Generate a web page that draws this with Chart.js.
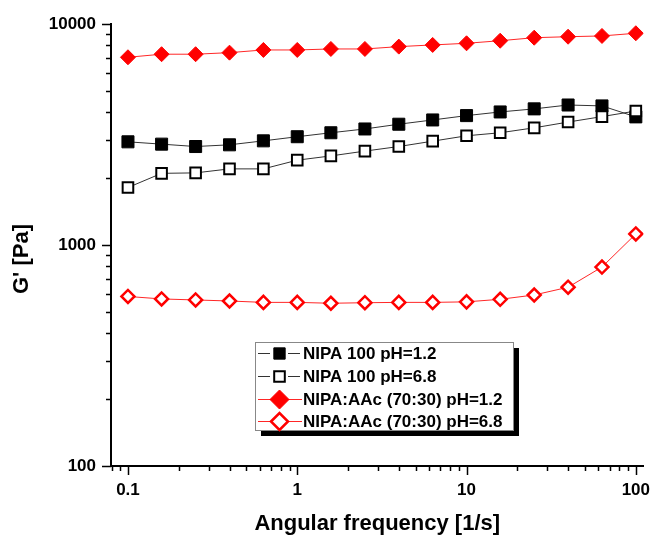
<!DOCTYPE html>
<html>
<head>
<meta charset="utf-8">
<script src="https://cdn.jsdelivr.net/npm/chart.js@4/dist/chart.umd.min.js"></script>
<style>
body { margin: 0; background: #fff; }
</style>
</head>
<body>
<canvas id="grafica" width="653" height="537"></canvas>
<script>
const frecuencias = [0.1, 0.158, 0.251, 0.398, 0.631, 1, 1.58, 2.51, 3.98, 6.31, 10, 15.8, 25.1, 39.8, 63.1, 100];
const nipa12 = [2930, 2860, 2790, 2840, 2960, 3090, 3220, 3350, 3520, 3680, 3850, 4000, 4130, 4300, 4260, 3800];
const nipa68 = [1820, 2110, 2120, 2210, 2210, 2420, 2530, 2660, 2790, 2950, 3120, 3220, 3390, 3600, 3810, 4040];
const aac12 = [7070, 7300, 7300, 7420, 7630, 7630, 7710, 7710, 7900, 8040, 8180, 8400, 8670, 8760, 8830, 9080];
const aac68 = [585, 570, 564, 558, 550, 550, 545, 548, 550, 550, 553, 568, 594, 644, 795, 1122];
const etiquetasX = [0.1, 1, 10, 100];
const etiquetasY = [100, 1000, 10000];

const fuente = '"Liberation Sans", Arial, sans-serif';

function puntos(valores) {
    return frecuencias.map((f, i) => ({ x: f, y: valores[i] }));
}

// marcas menores, titulo del eje y, leyenda con sombra
const extras = {
    id: 'extras',
    afterDraw(chart) {
        const ctx = chart.ctx;
        const ex = chart.scales.x;
        const ey = chart.scales.y;
        const area = chart.chartArea;
        ctx.save();
        ctx.strokeStyle = '#000';
        ctx.lineWidth = 1.5;
        ctx.beginPath();
        for (let d = -2; d <= 4; d++) {
            for (let k = 1; k <= 9; k++) {
                const v = k * Math.pow(10, d);
                const largo = k === 1 ? 9 : 5;
                if (v >= ex.min && v <= ex.max) {
                    const px = Math.round(ex.getPixelForValue(v)) + 0.5;
                    ctx.moveTo(px, area.bottom);
                    ctx.lineTo(px, area.bottom + largo);
                }
                if (v >= ey.min && v <= ey.max) {
                    const py = Math.round(ey.getPixelForValue(v)) + 0.5;
                    ctx.moveTo(area.left, py);
                    ctx.lineTo(area.left - largo, py);
                }
            }
        }
        ctx.stroke();

        // titulo eje y
        ctx.save();
        ctx.translate(22, 259);
        ctx.rotate(-Math.PI / 2);
        ctx.font = 'bold 22px ' + fuente;
        ctx.fillStyle = '#000';
        ctx.textAlign = 'center';
        ctx.textBaseline = 'middle';
        ctx.fillText("G' [Pa]", 0, 0);
        ctx.restore();

        // leyenda
        const bx = 255, by = 342, bw = 258, bh = 88;
        ctx.fillStyle = '#000';
        ctx.fillRect(bx + 6, by + 6, bw, bh);
        ctx.fillStyle = '#fff';
        ctx.fillRect(bx, by, bw, bh);
        ctx.strokeStyle = '#888';
        ctx.lineWidth = 1;
        ctx.strokeRect(bx + 0.5, by + 0.5, bw, bh);

        ctx.font = 'bold 17px ' + fuente;
        ctx.textAlign = 'left';
        ctx.textBaseline = 'middle';
        chart.data.datasets.forEach((ds, i) => {
            const fy = [353, 376, 399, 421][i];
            ctx.strokeStyle = ds.borderColor;
            ctx.lineWidth = 1;
            ctx.beginPath();
            if (ds.huecoLeyenda) {
                ctx.moveTo(258, fy + 0.5); ctx.lineTo(270, fy + 0.5);
                ctx.moveTo(288, fy + 0.5); ctx.lineTo(300, fy + 0.5);
            } else {
                ctx.moveTo(258, fy + 0.5); ctx.lineTo(302, fy + 0.5);
            }
            ctx.stroke();
            ctx.fillStyle = ds.pointBackgroundColor;
            ctx.strokeStyle = ds.pointBorderColor;
            ctx.lineWidth = ds.pointBorderWidth;
            Chart.helpers.drawPoint(ctx, {
                pointStyle: ds.pointStyle,
                radius: ds.radioLeyenda,
                borderWidth: ds.pointBorderWidth,
                rotation: 0
            }, 279.5, fy + 0.5);
            ctx.fillStyle = '#000';
            ctx.fillText(ds.label, 303, fy + 1);
        });
        ctx.restore();
    }
};

const ctx = document.getElementById('grafica').getContext('2d');
const grafica = new Chart(ctx, {
    type: 'line',
    data: {
        datasets: [
            {
                label: 'NIPA 100 pH=1.2',
                data: puntos(nipa12),
                borderColor: '#333',
                borderWidth: 1,
                pointStyle: 'rect',
                pointRadius: 8.5,
                radioLeyenda: 8,
                pointBackgroundColor: '#000',
                pointBorderColor: '#000',
                pointBorderWidth: 1,
                huecoLeyenda: true,
                order: 2
            },
            {
                label: 'NIPA 100 pH=6.8',
                data: puntos(nipa68),
                borderColor: '#333',
                borderWidth: 1,
                pointStyle: 'rect',
                pointRadius: 7.5,
                radioLeyenda: 7.5,
                pointBackgroundColor: '#fff',
                pointBorderColor: '#000',
                pointBorderWidth: 2,
                huecoLeyenda: true,
                order: 1
            },
            {
                label: 'NIPA:AAc (70:30) pH=1.2',
                data: puntos(aac12),
                borderColor: 'rgba(255,0,0,0.85)',
                borderWidth: 1,
                pointStyle: 'rectRot',
                pointRadius: 7.5,
                radioLeyenda: 9.5,
                pointBackgroundColor: '#ff0000',
                pointBorderColor: '#ff0000',
                pointBorderWidth: 1,
                order: 4
            },
            {
                label: 'NIPA:AAc (70:30) pH=6.8',
                data: puntos(aac68),
                borderColor: 'rgba(255,0,0,0.85)',
                borderWidth: 1,
                pointStyle: 'rectRot',
                pointRadius: 6.5,
                radioLeyenda: 8.5,
                pointBackgroundColor: '#fff',
                pointBorderColor: '#ff0000',
                pointBorderWidth: 2.5,
                order: 3
            }
        ]
    },
    options: {
        responsive: false,
        animation: false,
        devicePixelRatio: 1,
        events: [],
        layout: { padding: { top: 24, right: 7, left: 0, bottom: 0 } },
        plugins: {
            legend: { display: false },
            tooltip: { enabled: false }
        },
        scales: {
            x: {
                type: 'logarithmic',
                min: 0.0794,
                max: 111,
                afterBuildTicks: s => { s.ticks = etiquetasX.map(v => ({ value: v })); },
                afterFit: s => { s.height = 71; s.paddingLeft = 0; s.paddingRight = 0; },
                grid: { display: false, drawTicks: false },
                border: { display: true, color: '#000', width: 2 },
                ticks: {
                    autoSkip: false,
                    maxRotation: 0,
                    padding: 14,
                    color: '#000',
                    font: { family: fuente, size: 17, weight: 'bold' },
                    callback: v => String(v)
                },
                title: {
                    display: true,
                    text: 'Angular frequency [1/s]',
                    color: '#000',
                    padding: 0,
                    font: { family: fuente, size: 22, weight: 'bold', lineHeight: 1.2 }
                }
            },
            y: {
                type: 'logarithmic',
                min: 100,
                max: 10000,
                afterBuildTicks: s => { s.ticks = etiquetasY.map(v => ({ value: v })); },
                afterFit: s => { s.width = 111; s.paddingTop = 0; s.paddingBottom = 0; },
                grid: { display: false, drawTicks: false },
                border: { display: true, color: '#000', width: 2 },
                ticks: {
                    autoSkip: false,
                    padding: 15,
                    color: '#000',
                    font: { family: fuente, size: 17, weight: 'bold' },
                    callback: v => String(v)
                }
            }
        }
    },
    plugins: [extras]
});
</script>
</body>
</html>
